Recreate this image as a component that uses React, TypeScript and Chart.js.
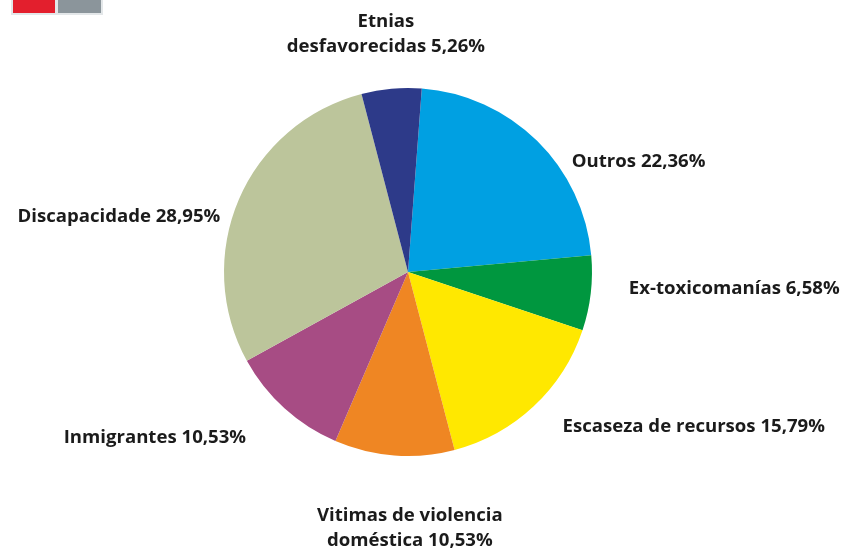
import React, { useEffect, useRef } from "react";
import { Chart, registerables } from "chart.js";

Chart.register(...registerables);

const categories = [
  "Outros",
  "Ex-toxicomanías",
  "Escaseza de recursos",
  "Vitimas de violencia doméstica",
  "Inmigrantes",
  "Discapacidade",
  "Etnias desfavorecidas",
];
const values = [22.36, 6.58, 15.79, 10.53, 10.53, 28.95, 5.26];
const labelLines = [
  ["Outros 22,36%"],
  ["Ex-toxicomanías 6,58%"],
  ["Escaseza de recursos 15,79%"],
  ["Vitimas de violencia", "doméstica 10,53%"],
  ["Inmigrantes 10,53%"],
  ["Discapacidade 28,95%"],
  ["Etnias", "desfavorecidas 5,26%"],
];
const colors = ["#00a0e2", "#00973f", "#ffe800", "#ef8623", "#a74c84", "#bcc59b", "#2d3a89"];

// label placement relative to pie centre, in units of radius
const labelPos: { dx: number; dy: number; align: CanvasTextAlign }[] = [
  { dx: 0.89, dy: -0.6, align: "left" },
  { dx: 1.2, dy: 0.09, align: "left" },
  { dx: 0.84, dy: 0.84, align: "left" },
  { dx: 0.01, dy: 1.394, align: "center" },
  { dx: -0.88, dy: 0.9, align: "right" },
  { dx: -1.02, dy: -0.3, align: "right" },
  { dx: -0.12, dy: -1.29, align: "center" },
];

const FONT = "700 18.6px 'Open Sans'";
const LINE_H = 25;

const labelPlugin = {
  id: "outerLabels",
  afterDraw(chart: any) {
    const ctx = chart.ctx;
    const arc = chart.getDatasetMeta(0).data[0];
    if (!arc) return;
    const cx = arc.x;
    const cy = arc.y;
    const r = arc.outerRadius;
    ctx.save();
    ctx.font = FONT;
    ctx.fillStyle = "#1b1b1b";
    ctx.textBaseline = "middle";
    labelLines.forEach((lines, i) => {
      const p = labelPos[i];
      const x = cx + p.dx * r;
      const y0 = cy + p.dy * r - ((lines.length - 1) * LINE_H) / 2;
      ctx.textAlign = p.align;
      lines.forEach((t, j) => ctx.fillText(t, x, y0 + j * LINE_H));
    });
    ctx.restore();
  },
};

export default function App() {
  const ref = useRef<HTMLCanvasElement>(null);
  useEffect(() => {
    if (!ref.current) return;
    const chart = new Chart(ref.current, {
      type: "pie",
      data: {
        labels: categories,
        datasets: [
          {
            data: values,
            backgroundColor: colors,
            borderWidth: 0,
          },
        ],
      },
      options: {
        animation: false,
        responsive: false,
        rotation: 4.3,
        layout: { padding: { left: 224, right: 259, top: 88, bottom: 94 } },
        plugins: {
          legend: { display: false },
          tooltip: { enabled: false },
        },
      },
      plugins: [labelPlugin],
    });
    return () => chart.destroy();
  }, []);
  return (
    <div style={{ position: "fixed", left: 0, top: 0, width: 851, height: 550, background: "#ffffff" }}>
      <div style={{ position: "absolute", left: 11, top: 0, width: 92, height: 15, background: "#e3e7e9" }} />
      <div style={{ position: "absolute", left: 13, top: 0, width: 42, height: 13, background: "#e31f2d" }} />
      <div style={{ position: "absolute", left: 58, top: 0, width: 43, height: 13, background: "#8b959b" }} />
      <canvas ref={ref} width={851} height={550} style={{ position: "absolute", left: 0, top: 0 }} />
    </div>
  );
}
